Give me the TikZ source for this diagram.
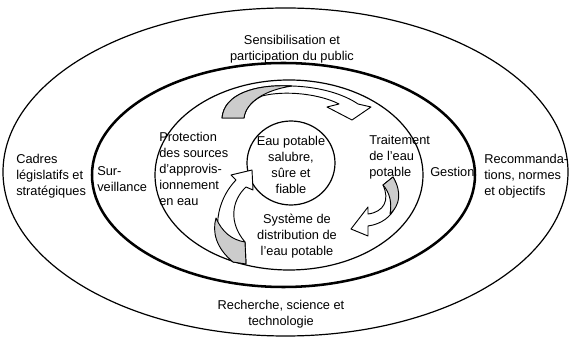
\documentclass[tikz,border=0pt]{standalone}
\usepackage{fontspec}
\setmainfont{Liberation Sans}
\usepackage{xcolor}
\usepackage{tikz}
\definecolor{ribbon}{gray}{0.80}

\tikzset{
  ring/.style={draw=black,line width=0.9pt},
  bigring/.style={draw=black,line width=1.9pt},
  txt/.style={inner sep=0pt,font=\fontsize{9.6}{12}\selectfont},
  back/.style={fill=white,draw=black,line width=0.7pt,line join=round},
  twist/.style={fill=ribbon,draw=black,line width=0.7pt,line join=round}
}

\begin{document}
\begin{tikzpicture}[x=0.75pt,y=-0.75pt]
  \useasboundingbox (0,0) rectangle (572,338);
  \draw[ring] (285.5,172) ellipse (282.5 and 164);
  \draw[bigring] (283.5,175) ellipse (191.5 and 112);
  \draw[ring] (289,175) ellipse (134 and 95);
  \draw[ring] (291,163) ellipse (44 and 42);

  \fill[back] (222,118) .. controls (224,94) and (255,84) .. (292,86)
    .. controls (322,87) and (345,95) .. (358,104) -- (371,107) -- (352,120)
    -- (327,107) -- (339,104) .. controls (320,94) and (285,90) .. (262,96)
    .. controls (250,102) and (245,110) .. (244,118) -- cycle;
  \fill[twist] (222,118) .. controls (224,94) and (255,84) .. (292,86)
    .. controls (265,90) and (246,102) .. (244,118) -- cycle;

  \fill[back] (393,177) .. controls (404,196) and (396,222) .. (368,226)
    -- (368,236) -- (351,229) -- (368,207) -- (368,214)
    .. controls (384,212) and (390,200) .. (383,185) -- cycle;
  \fill[twist] (393,177) .. controls (402,192) and (400,205) .. (390,214)
    .. controls (392,203) and (390,193) .. (383,185) -- cycle;

  \fill[back] (233,262) .. controls (212,244) and (212,205) .. (236,180)
    -- (231,175) -- (252,170) -- (253,190) -- (246,187)
    .. controls (232,200) and (228,222) .. (245,242) -- (246,264) -- cycle;
  \fill[twist] (233,262) .. controls (216,248) and (212,232) .. (216,218)
    .. controls (222,232) and (232,240) .. (245,242) -- (246,264) -- cycle;

  \node[txt,align=center] (public) at (292,49) {Sensibilisation et\\participation du public};
  \node[txt,align=center] (recherche) at (281,314) {Recherche, science et\\technologie};
  \node[txt,align=left,anchor=west] (cadres) at (16,176) {Cadres\\législatifs et\\stratégiques};
  \node[txt,align=left,anchor=west] (surv) at (97,179) {Sur-\\veillance};
  \node[txt,align=left,anchor=west] (protection) at (159,169) {Protection\\des sources\\d’approvis-\\ionnement\\en eau};
  \node[txt,align=center] (eau) at (291,165) {Eau potable\\salubre,\\sûre et\\fiable};
  \node[txt,align=left,anchor=west] (traitement) at (369,157) {Traitement\\de l’eau\\potable};
  \node[txt,align=left,anchor=west] (gestion) at (430,172) {Gestion};
  \node[txt,align=left,anchor=west] (recom) at (484,176) {Recommanda-\\tions, normes\\et objectifs};
  \node[txt,align=center] (systeme) at (297,236) {Système de\\distribution de\\l’eau potable};
\end{tikzpicture}
\end{document}
